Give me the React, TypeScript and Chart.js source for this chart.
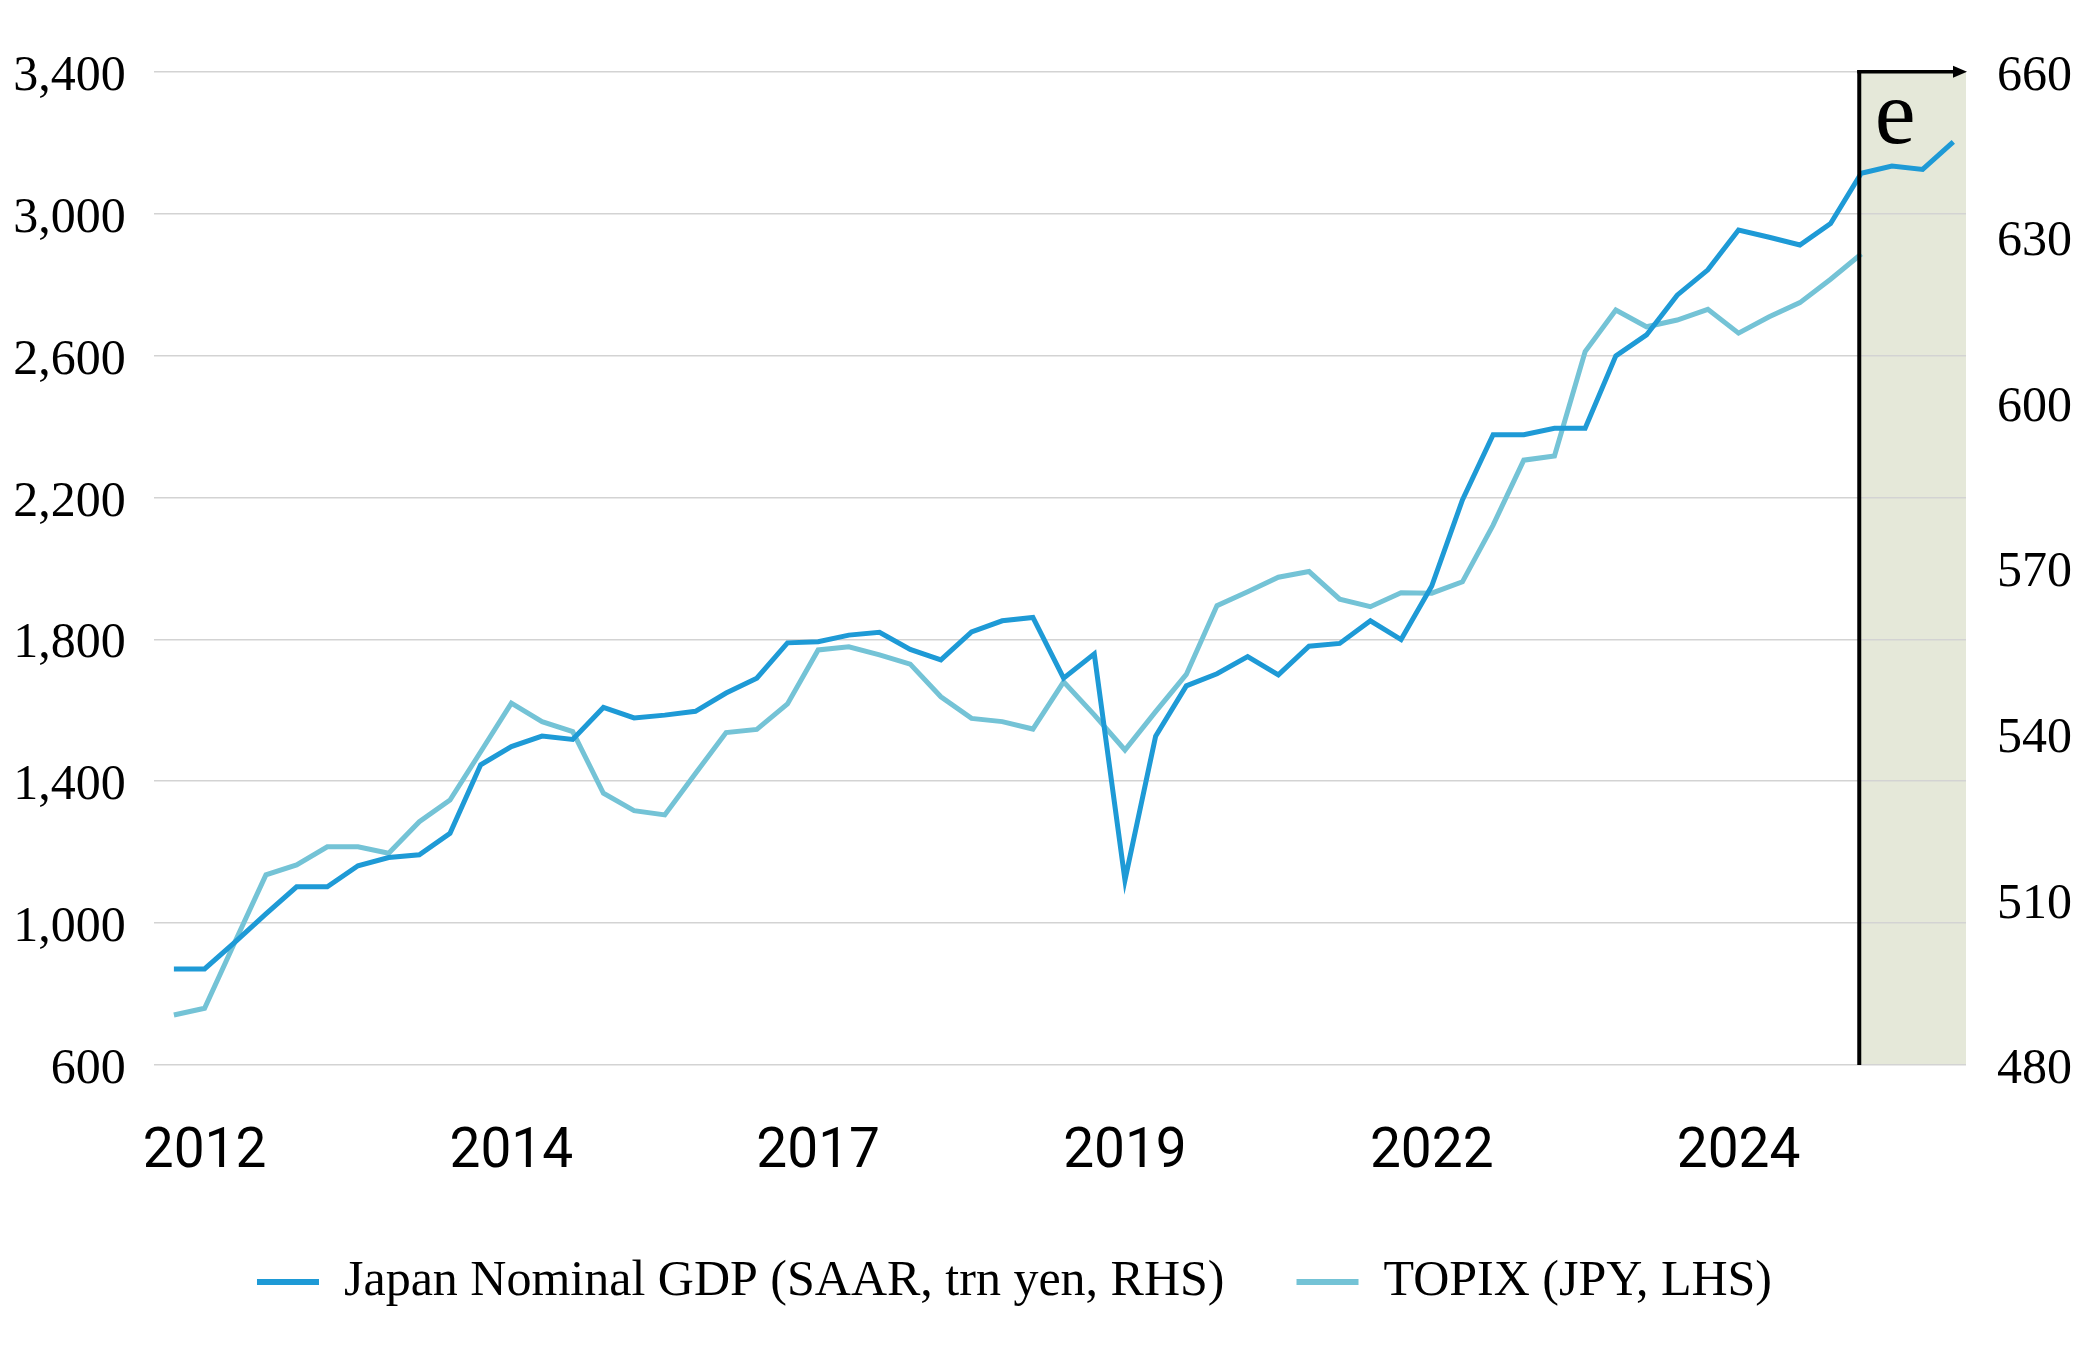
import React, { useEffect, useRef } from 'react';
import { Chart, registerables } from 'chart.js';

Chart.register(...registerables);

// Quarterly periods (x categories)
const QUARTERS = [
  '2011 Q4',
  '2012 Q1', '2012 Q2', '2012 Q3', '2012 Q4',
  '2013 Q1', '2013 Q2', '2013 Q3', '2013 Q4',
  '2014 Q1', '2014 Q2', '2014 Q3', '2014 Q4',
  '2015 Q1', '2015 Q2', '2015 Q3', '2015 Q4',
  '2016 Q1', '2016 Q2', '2016 Q3', '2016 Q4',
  '2017 Q1', '2017 Q2', '2017 Q3', '2017 Q4',
  '2018 Q1', '2018 Q2', '2018 Q3', '2018 Q4',
  '2019 Q1', '2019 Q2', '2019 Q3', '2019 Q4',
  '2020 Q1', '2020 Q2', '2020 Q3', '2020 Q4',
  '2021 Q1', '2021 Q2', '2021 Q3', '2021 Q4',
  '2022 Q1', '2022 Q2', '2022 Q3', '2022 Q4',
  '2023 Q1', '2023 Q2', '2023 Q3', '2023 Q4',
  '2024 Q1', '2024 Q2', '2024 Q3', '2024 Q4',
  '2025 Q1', '2025 Q2', '2025 Q3', '2025 Q4',
  '2026 Q1', '2026 Q2',
];

// Periods that carry an x-axis label (label text = year)
const X_TICK_QUARTERS = ['2012 Q1', '2014 Q3', '2017 Q1', '2019 Q3', '2022 Q1', '2024 Q3'];

// First estimated period ("e")
const ESTIMATE_FROM = '2025 Q3';

// Japan Nominal GDP (SAAR, trn yen) — right axis
const GDP_TRN_YEN = [
  497.4, 497.4, 502.3, 507.4, 512.3, 512.3, 516.1, 517.6, 518.1, 522.0,
  534.4, 537.7, 539.6, 539.0, 544.8, 542.9, 543.4, 544.1, 547.4, 550.1,
  556.5, 556.7, 557.9, 558.4, 555.3, 553.4, 558.5, 560.5, 561.1, 550.1,
  554.5, 513.5, 539.6, 548.7, 550.9, 554.0, 550.7, 555.9, 556.4, 560.5,
  557.1, 566.8, 582.4, 594.2, 594.2, 595.4, 595.4, 608.5, 612.3, 619.5,
  624.1, 631.3, 630.0, 628.6, 632.5, 641.6, 642.9, 642.3, 647.3,
];

// TOPIX (JPY) — left axis
const TOPIX_JPY = [
  741, 760, 949, 1136, 1164, 1215, 1215, 1197, 1286, 1347,
  1483, 1620, 1568, 1540, 1366, 1317, 1305, 1422, 1537, 1546,
  1618, 1770, 1779, 1756, 1730, 1638, 1577, 1568, 1547, 1680,
  1587, 1488, 1596, 1701, 1895, 1934, 1975, 1991, 1913, 1892,
  1931, 1930, 1962, 2122, 2305, 2317, 2611, 2728, 2681, 2700,
  2730, 2663, 2709, 2749, 2815, 2886,
];

// Axis ranges
const LEFT_AXIS = { min: 600, max: 3400, step: 400 };
const RIGHT_AXIS = { min: 480, max: 660, step: 30 };

const SERIES_NAMES = ['Japan Nominal GDP (SAAR, trn yen, RHS)', 'TOPIX (JPY, LHS)'];
const ESTIMATE_LABEL = 'e';

const SERIF = '"Liberation Serif", "Times New Roman", Times, serif';
const SANS = 'Roboto, "Liberation Sans", Arial, sans-serif';
const GDP_COLOR = '#1e9ad6';
const TOPIX_COLOR = '#74c3d6';

const estimatePlugin = {
  id: 'estimateZone',
  afterLayout(chart: any) {
    // let the right-hand tick labels use the full canvas width (no clipping)
    const r = chart.scales.yRight;
    if (r) r.right = chart.width;
  },
  beforeDraw(chart: any) {
    const { ctx, chartArea, scales } = chart;
    const x0 = scales.x.getPixelForValue(QUARTERS.indexOf(ESTIMATE_FROM)) - 2;
    ctx.save();
    ctx.fillStyle = '#e5e8d9';
    ctx.fillRect(x0, chartArea.top, chartArea.right - x0, chartArea.bottom - chartArea.top);
    ctx.restore();
  },
  afterDatasetsDraw(chart: any) {
    const { ctx, chartArea, scales } = chart;
    const x0 = scales.x.getPixelForValue(QUARTERS.indexOf(ESTIMATE_FROM)) - 2;
    const top = chartArea.top;
    const right = chartArea.right;
    ctx.save();
    ctx.strokeStyle = '#000';
    ctx.fillStyle = '#000';
    ctx.lineCap = 'butt';
    // vertical line
    ctx.lineWidth = 4;
    ctx.beginPath();
    ctx.moveTo(x0, top - 1.75);
    ctx.lineTo(x0, chartArea.bottom);
    ctx.stroke();
    // horizontal arrow
    ctx.lineWidth = 3.5;
    ctx.beginPath();
    ctx.moveTo(x0 - 2, top);
    ctx.lineTo(right - 10, top);
    ctx.stroke();
    ctx.beginPath();
    ctx.moveTo(right + 1, top);
    ctx.lineTo(right - 13, top - 6);
    ctx.lineTo(right - 13, top + 6);
    ctx.closePath();
    ctx.fill();
    // "e" label
    ctx.font = `92px ${SERIF}`;
    ctx.textAlign = 'center';
    ctx.textBaseline = 'alphabetic';
    ctx.fillText(ESTIMATE_LABEL, x0 + 36, top + 71);
    ctx.restore();
  },
};

export default function App() {
  const canvasRef = useRef<HTMLCanvasElement | null>(null);

  useEffect(() => {
    let chart: Chart | null = null;
    let cancelled = false;

    const build = () => {
      if (cancelled || !canvasRef.current) return;
      const baseGen = (Chart as any).defaults.plugins.legend.labels.generateLabels;
      chart = new Chart(canvasRef.current, {
        type: 'line',
        data: {
          datasets: [
            {
              label: SERIES_NAMES[0],
              data: GDP_TRN_YEN.map((v, i) => ({ x: i, y: v })),
              yAxisID: 'yRight',
              borderColor: GDP_COLOR,
              backgroundColor: GDP_COLOR,
              borderWidth: 5,
              pointRadius: 0,
              tension: 0,
            },
            {
              label: SERIES_NAMES[1],
              data: TOPIX_JPY.map((v, i) => ({ x: i, y: v })),
              yAxisID: 'yLeft',
              borderColor: TOPIX_COLOR,
              backgroundColor: TOPIX_COLOR,
              borderWidth: 5,
              pointRadius: 0,
              tension: 0,
            },
          ],
        },
        options: {
          animation: false,
          responsive: true,
          maintainAspectRatio: false,
          devicePixelRatio: 1,
          layout: { padding: { top: 71.7, left: 0, right: 61, bottom: 55 } },
          plugins: {
            tooltip: { enabled: false },
            legend: {
              position: 'bottom',
              labels: {
                boxWidth: 62,
                boxHeight: 6,
                padding: 72,
                color: '#000',
                font: { family: SERIF, size: 50 },
                generateLabels: (c: any) =>
                  baseGen(c).map((l: any) => ({ ...l, lineWidth: 0 })),
              },
            },
          },
          scales: {
            x: {
              type: 'linear',
              min: -0.655,
              max: 58.414,
              grid: { display: false, drawTicks: false },
              border: { display: false },
              afterBuildTicks: (scale: any) => {
                scale.ticks = X_TICK_QUARTERS.map((q) => ({ value: QUARTERS.indexOf(q) }));
              },
              afterFit: (scale: any) => {
                scale.height = 120;
              },
              ticks: {
                autoSkip: false,
                maxRotation: 0,
                minRotation: 0,
                padding: 55,
                color: '#000',
                font: { family: SANS, size: 55 },
                callback: (value: any) => {
                  const q = QUARTERS[Math.round(Number(value))];
                  return q ? q.slice(0, 4) : '';
                },
              },
            },
            yLeft: {
              type: 'linear',
              position: 'left',
              min: LEFT_AXIS.min,
              max: LEFT_AXIS.max,
              grid: { color: '#d3d3d3', lineWidth: 1.5, drawTicks: false },
              border: { display: false },
              afterFit: (scale: any) => {
                scale.width = 153.8;
              },
              ticks: {
                stepSize: LEFT_AXIS.step,
                padding: 28,
                labelOffset: 5,
                color: '#000',
                font: { family: SERIF, size: 50 },
                callback: (value: any) => Number(value).toLocaleString('en-US'),
              },
            },
            yRight: {
              type: 'linear',
              position: 'right',
              min: RIGHT_AXIS.min,
              max: RIGHT_AXIS.max,
              grid: { display: false, drawTicks: false },
              border: { display: false },
              afterFit: (scale: any) => {
                scale.width = 63;
              },
              ticks: {
                stepSize: RIGHT_AXIS.step,
                padding: 31,
                labelOffset: 5,
                color: '#000',
                font: { family: SERIF, size: 50 },
              },
            },
          },
        },
        plugins: [estimatePlugin],
      } as any);
    };

    const fonts: any = (document as any).fonts;
    if (fonts && fonts.load) {
      Promise.all([
        fonts.load(`50px "Liberation Serif"`),
        fonts.load(`55px Roboto`),
      ])
        .catch(() => null)
        .then(build);
    } else {
      build();
    }

    return () => {
      cancelled = true;
      if (chart) chart.destroy();
    };
  }, []);

  return (
    <div
      style={{
        position: 'fixed',
        left: 0,
        top: 0,
        width: 2090,
        height: 1372,
        background: '#fff',
      }}
    >
      <canvas ref={canvasRef} />
    </div>
  );
}
